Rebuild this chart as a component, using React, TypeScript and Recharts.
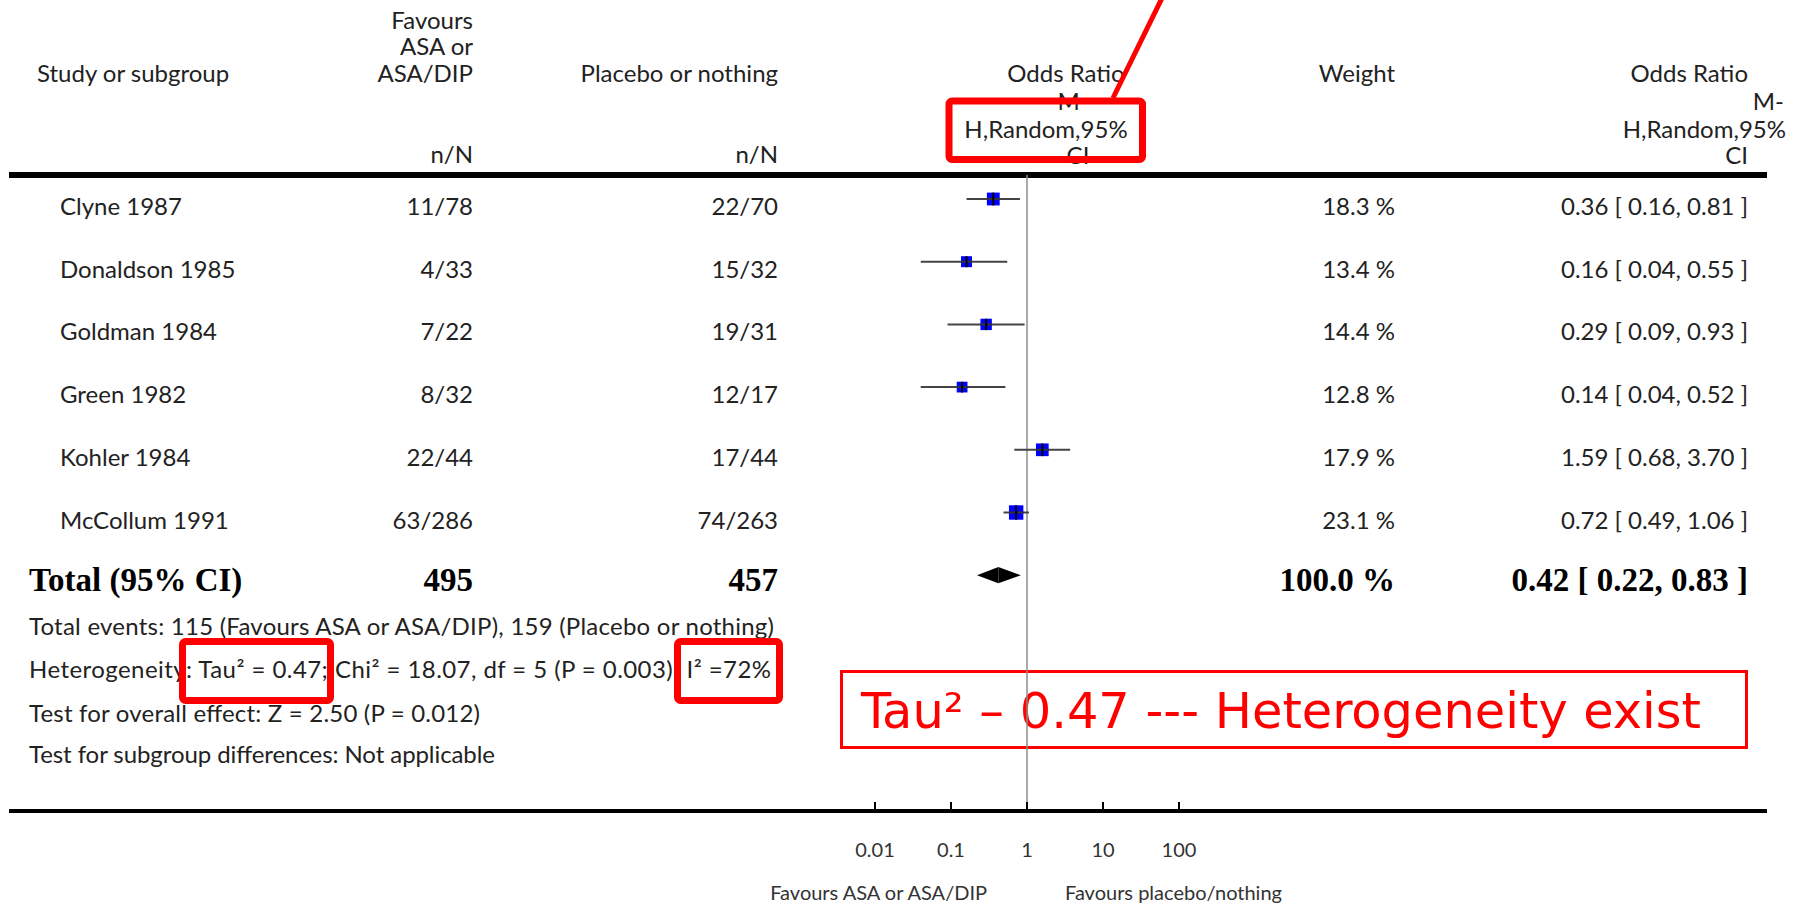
import React from 'react'
import {
  ComposedChart,
  Scatter,
  ErrorBar,
  XAxis,
  YAxis,
  ReferenceLine,
  ReferenceArea,
  Customized,
} from 'recharts'

// ─── Data ─────────────────────────────────────────────────────────────────────

const STUDIES = ['Clyne 1987', 'Donaldson 1985', 'Goldman 1984', 'Green 1982', 'Kohler 1984', 'McCollum 1991']
const ASA_EVENTS = [11, 4, 7, 8, 22, 63]
const ASA_TOTAL = [78, 33, 22, 32, 44, 286]
const PLACEBO_EVENTS = [22, 15, 19, 12, 17, 74]
const PLACEBO_TOTAL = [70, 32, 31, 17, 44, 263]
const WEIGHTS = [18.3, 13.4, 14.4, 12.8, 17.9, 23.1]
const ODDS_RATIO = [0.36, 0.16, 0.29, 0.14, 1.59, 0.72]
const CI_LOW = [0.16, 0.04, 0.09, 0.04, 0.68, 0.49]
const CI_HIGH = [0.81, 0.55, 0.93, 0.52, 3.7, 1.06]

const POOLED_OR = 0.42
const POOLED_LOW = 0.22
const POOLED_HIGH = 0.83
const POOLED_WEIGHT = '100.0 %'

const X_TICKS = [0.01, 0.1, 1, 10, 100]

const FOOTNOTES = [
  'Total events: 115 (Favours ASA or ASA/DIP), 159 (Placebo or nothing)',
  'Heterogeneity: Tau² = 0.47; Chi² = 18.07, df = 5 (P = 0.003); I² =72%',
  'Test for overall effect: Z = 2.50 (P = 0.012)',
  'Test for subgroup differences: Not applicable',
]

// ─── Layout ───────────────────────────────────────────────────────────────────

const W = 1805
const H = 906
const PLOT_LEFT = 9
const PLOT_RIGHT = 1767
const PLOT_TOP = 175
const AXIS_Y = 811
const ONE_X = 1027 // where OR = 1 sits
const DECADE = 76 // px per factor of ten
const ROW0_Y = 199
const ROW_STEP = 62.7
const TOTAL_ROW = STUDIES.length

const X_DOMAIN = [10 ** ((PLOT_LEFT - ONE_X) / DECADE), 10 ** ((PLOT_RIGHT - ONE_X) / DECADE)]
const Y_DOMAIN = [(PLOT_TOP - ROW0_Y) / ROW_STEP, (AXIS_Y - ROW0_Y) / ROW_STEP]

const COL = { name: 60, asa: 473, placebo: 778, weight: 1395, or: 1748 }

// footnote baselines and widths (Lato runs a touch narrower than Gill Sans)
const NOTE_Y = [635, 678, 722, 763]
const NOTE_W = [745, 742, 451, 466]

const SANS = 'Lato, "Open Sans", sans-serif'
const SERIF = '"Liberation Serif", "DejaVu Serif", serif'
const INK = '#222'
const RED = '#ff0000'

const fmtCI = (or: number, lo: number, hi: number) =>
  `${or.toFixed(2)} [ ${lo.toFixed(2)}, ${hi.toFixed(2)} ]`

const sum = (a: number[]) => a.reduce((s, v) => s + v, 0)

const studyData = STUDIES.map((name, i) => ({
  name,
  row: i,
  or: ODDS_RATIO[i],
  weight: WEIGHTS[i],
  ci: [ODDS_RATIO[i] - CI_LOW[i], CI_HIGH[i] - ODDS_RATIO[i]],
}))

// ─── Marks ────────────────────────────────────────────────────────────────────

function StudyMarker(props: any) {
  const { cx, cy, payload } = props
  const s = 3 * Math.sqrt(payload.weight)
  return (
    <g>
      <rect x={cx - s / 2} y={cy - s / 2} width={s} height={s} fill="#0000ff" />
      <line x1={cx - s / 2} x2={cx + s / 2} y1={cy} y2={cy} stroke="#333" strokeWidth={2} />
      <line x1={cx} x2={cx} y1={cy - s / 2} y2={cy + s / 2} stroke="#000" strokeWidth={2} />
    </g>
  )
}

const DiamondLeft = (p: any) => (
  <polygon
    points={`${p.x},${p.y + p.height / 2} ${p.x + p.width},${p.y} ${p.x + p.width},${p.y + p.height}`}
    fill="#000"
  />
)

const DiamondRight = (p: any) => (
  <polygon
    points={`${p.x},${p.y} ${p.x + p.width},${p.y + p.height / 2} ${p.x},${p.y + p.height}`}
    fill="#000"
  />
)

// ─── Table rows (placed by the y-axis scale) ──────────────────────────────────

function RowCells(props: any) {
  const { y, payload } = props
  const i = payload.value as number
  if (i === TOTAL_ROW) {
    const by = y + 15.5
    return (
      <g fontFamily={SERIF} fontWeight="bold" fontSize={33} fill="#000">
        <text x={29} y={by}>Total (95% CI)</text>
        <text x={COL.asa} y={by} textAnchor="end">{sum(ASA_TOTAL)}</text>
        <text x={COL.placebo} y={by} textAnchor="end">{sum(PLACEBO_TOTAL)}</text>
        <text x={COL.weight} y={by} textAnchor="end">{POOLED_WEIGHT}</text>
        <text x={COL.or} y={by} textAnchor="end">{fmtCI(POOLED_OR, POOLED_LOW, POOLED_HIGH)}</text>
      </g>
    )
  }
  const by = y + 16
  return (
    <g fontFamily={SANS} fontSize={24} fill={INK}>
      <text x={COL.name} y={by}>{STUDIES[i]}</text>
      <text x={COL.asa} y={by} textAnchor="end">{`${ASA_EVENTS[i]}/${ASA_TOTAL[i]}`}</text>
      <text x={COL.placebo} y={by} textAnchor="end">{`${PLACEBO_EVENTS[i]}/${PLACEBO_TOTAL[i]}`}</text>
      <text x={COL.weight} y={by} textAnchor="end">{`${WEIGHTS[i].toFixed(1)} %`}</text>
      <text x={COL.or} y={by} textAnchor="end">{fmtCI(ODDS_RATIO[i], CI_LOW[i], CI_HIGH[i])}</text>
    </g>
  )
}

// ─── Header, footnotes and callouts ───────────────────────────────────────────

function TableFrame() {
  return (
    <g>
      <g fontFamily={SANS} fontSize={24} fill={INK}>
        <text x={37} y={82}>Study or subgroup</text>
        <text x={COL.asa} y={29} textAnchor="end">Favours</text>
        <text x={COL.asa} y={55} textAnchor="end">ASA or</text>
        <text x={COL.asa} y={82} textAnchor="end">ASA/DIP</text>
        <text x={COL.asa} y={163} textAnchor="end">n/N</text>
        <text x={COL.placebo} y={82} textAnchor="end">Placebo or nothing</text>
        <text x={COL.placebo} y={163} textAnchor="end">n/N</text>

        <text x={1066} y={82} textAnchor="middle">Odds Ratio</text>
        <text x={1073} y={110} textAnchor="middle">M-</text>
        <text x={1046} y={138} textAnchor="middle">H,Random,95%</text>
        <text x={1078} y={164} textAnchor="middle">CI</text>

        <text x={COL.weight} y={82} textAnchor="end">Weight</text>

        <text x={COL.or} y={82} textAnchor="end">Odds Ratio</text>
        <text x={1784} y={110} textAnchor="end">M-</text>
        <text x={1786} y={138} textAnchor="end">H,Random,95%</text>
        <text x={COL.or} y={164} textAnchor="end">CI</text>

        {FOOTNOTES.map((t, k) => (
          <text key={k} x={29} y={NOTE_Y[k]} textLength={NOTE_W[k]} lengthAdjust="spacing">
            {t}
          </text>
        ))}
      </g>

      <g fontFamily={SANS} fontSize={20} fill="#333">
        <text x={987} y={900} textAnchor="end">Favours ASA or ASA/DIP</text>
        <text x={1065} y={900}>Favours placebo/nothing</text>
      </g>

      <line x1={PLOT_LEFT} x2={PLOT_RIGHT} y1={PLOT_TOP} y2={PLOT_TOP} stroke="#000" strokeWidth={6} />

      {/* red callouts */}
      <line x1={1163} y1={-4} x2={1113} y2={98} stroke={RED} strokeWidth={5} />
      <rect x={949} y={101} width={193.5} height={58.5} rx={3} fill="none" stroke={RED} strokeWidth={7} />
      <rect x={182.5} y={641.5} width={148} height={59} rx={3} fill="none" stroke={RED} strokeWidth={7} />
      <rect x={677.5} y={641.5} width={102} height={59} rx={3} fill="none" stroke={RED} strokeWidth={7} />
      <rect x={841.5} y={671.5} width={905} height={76} fill="none" stroke={RED} strokeWidth={3} />
      <text
        x={861}
        y={728}
        fontFamily='"DejaVu Sans Condensed", "DejaVu Sans", sans-serif'
        fontSize={49}
        fill={RED}
        textLength={840}
        lengthAdjust="spacingAndGlyphs"
      >
        Tau² – 0.47 --- Heterogeneity exist
      </text>
    </g>
  )
}

// ─── Chart ────────────────────────────────────────────────────────────────────

export default function App() {
  return (
    <div style={{ position: 'absolute', left: 0, top: 0, width: W, height: H, background: '#fff' }}>
      <ComposedChart
        width={W}
        height={H}
        margin={{ top: PLOT_TOP, right: W - PLOT_RIGHT, bottom: 0, left: PLOT_LEFT - 1 }}
      >
        <XAxis
          type="number"
          dataKey="or"
          scale="log"
          domain={X_DOMAIN}
          allowDataOverflow
          ticks={X_TICKS}
          interval={0}
          tickFormatter={(v: number) => String(v)}
          height={H - AXIS_Y}
          axisLine={{ stroke: '#000', strokeWidth: 4 }}
          tickLine={{ stroke: '#000', strokeWidth: 2 }}
          tickSize={-9}
          tickMargin={41}
          tick={{ fontSize: 20, fill: '#333', fontFamily: SANS }}
        />
        <YAxis
          type="number"
          dataKey="row"
          domain={Y_DOMAIN}
          allowDataOverflow
          reversed
          width={1}
          ticks={[0, 1, 2, 3, 4, 5, TOTAL_ROW]}
          interval={0}
          axisLine={false}
          tickLine={false}
          tick={RowCells}
        />

        <ReferenceLine x={1} stroke="#8c8c8c" strokeWidth={1.5} />

        <Scatter data={studyData} dataKey="or" shape={StudyMarker} isAnimationActive={false}>
          <ErrorBar dataKey="ci" direction="x" width={0} stroke="#444" strokeWidth={2} isAnimationActive={false} />
        </Scatter>

        <ReferenceArea
          x1={POOLED_LOW}
          x2={POOLED_OR}
          y1={TOTAL_ROW - 0.13}
          y2={TOTAL_ROW + 0.13}
          shape={DiamondLeft}
          ifOverflow="visible"
        />
        <ReferenceArea
          x1={POOLED_OR}
          x2={POOLED_HIGH}
          y1={TOTAL_ROW - 0.13}
          y2={TOTAL_ROW + 0.13}
          shape={DiamondRight}
          ifOverflow="visible"
        />

        <Customized component={TableFrame} />
      </ComposedChart>
    </div>
  )
}
